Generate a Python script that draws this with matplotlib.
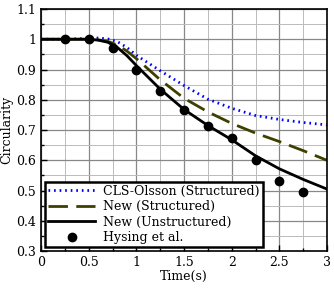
import numpy as np
import matplotlib
matplotlib.use("Agg")
import matplotlib.pyplot as plt
from matplotlib.ticker import MultipleLocator

plt.rcParams['font.family'] = ['DejaVu Serif']
plt.rcParams['font.size'] = 9

# time axis for the simulation curves
t = [0, 0.25, 0.5, 0.6, 0.7, 0.8, 0.9, 1.0, 1.25, 1.5, 1.75, 2.0, 2.25, 2.5, 2.75, 3.0]
cls_olsson = [1, 1, 1.003, 1.004, 1.001, 0.992, 0.973, 0.947, 0.896, 0.847, 0.802, 0.772, 0.748, 0.735, 0.725, 0.717]
new_struct = [1, 1, 1, 0.998, 0.993, 0.981, 0.961, 0.936, 0.866, 0.805, 0.76, 0.722, 0.69, 0.662, 0.632, 0.6]
new_unstruct = [1, 1, 1, 0.997, 0.99, 0.973, 0.946, 0.913, 0.835, 0.768, 0.715, 0.668, 0.615, 0.572, 0.537, 0.505]

# reference data
t_hys = [0.25, 0.5, 0.75, 1.0, 1.25, 1.5, 1.75, 2.0, 2.25, 2.5, 2.75]
hysing = [1.0, 1.0, 0.97, 0.90, 0.828, 0.766, 0.715, 0.673, 0.602, 0.533, 0.495]

fig = plt.figure(figsize=(3.34, 2.89), dpi=100)
ax = fig.add_axes([0.123, 0.131, 0.856, 0.838])

ax.plot(t, cls_olsson, color='blue', lw=2, linestyle=(0, (0.6, 1.4)), label='CLS-Olsson (Structured)')
ax.plot(t, new_struct, color='#3f3f00', lw=2, linestyle=(0, (7, 3)), label='New (Structured)')
ax.plot(t, new_unstruct, color='black', lw=2, label='New (Unstructured)')
ax.plot(t_hys, hysing, 'o', color='black', ms=6, label='Hysing et al.')

ax.set_xlim(0, 3)
ax.set_ylim(0.3, 1.1)
ax.xaxis.set_minor_locator(MultipleLocator(0.25))
ax.yaxis.set_minor_locator(MultipleLocator(0.05))
ax.set_xticks([0, 0.5, 1, 1.5, 2, 2.5, 3])
ax.set_xticklabels(['0', '0.5', '1', '1.5', '2', '2.5', '3'])
ax.set_yticks([0.3, 0.4, 0.5, 0.6, 0.7, 0.8, 0.9, 1.0, 1.1])
ax.set_yticklabels(['0.3', '0.4', '0.5', '0.6', '0.7', '0.8', '0.9', '1', '1.1'])

ax.grid(which='major', color='#888888', lw=0.9)
ax.grid(which='minor', color='#bbbbbb', lw=0.7)
ax.set_axisbelow(True)
ax.tick_params(which='both', direction='in', top=False, right=False)
ax.tick_params(which='major', length=4, width=1)
ax.tick_params(which='minor', length=2.5, width=1)
for s in ax.spines.values():
    s.set_linewidth(1.2)

ax.set_xlabel('Time(s)', labelpad=1)
ax.set_ylabel('Circularity', labelpad=2)

leg = ax.legend(loc='lower left', fancybox=False, framealpha=1, edgecolor='black',
                borderpad=0.25, labelspacing=0.2, handlelength=3.8, handletextpad=0.6,
                borderaxespad=0.3)
leg.get_frame().set_linewidth(1.8)

fig.savefig('out.png', dpi=100)
